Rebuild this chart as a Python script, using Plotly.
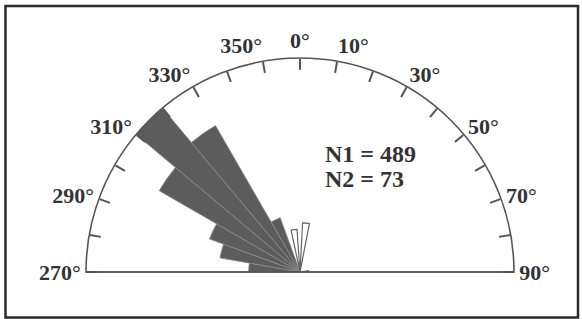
import plotly.graph_objects as go

W, H = 582, 319

# Main population (N1) petals, 10-degree bins, relative length
# (angles west of north written as negative degrees: -85 == 275°)
dark_theta = [-85, -75, -65, -55, -45, -35, -25]
dark_r = [0.24, 0.38, 0.45, 0.76, 1.0, 0.79, 0.27]

# Secondary population (N2) petals
light_theta = [-8, 7, 85]
light_r = [0.20, 0.23, 0.04]

tick_vals = [-90, -80, -70, -60, -50, -40, -30, -20, -10, 0, 10, 20, 30, 40, 50, 60, 70, 80, 90]
tick_text = ["270°", "", "290°", "", "310°", "", "330°", "", "350°", "0°", "10°", "",
             "30°", "", "50°", "", "70°", "", "90°"]

label_n1 = "N1 = 489"
label_n2 = "N2 = 73"

cx, cy, R = 300, 272, 214
dom_x = [(cx - R) / W, (cx + R) / W]
dom_y = [(H - cy) / H, (H - cy + R) / H]

fig = go.Figure()
fig.add_trace(go.Barpolar(
    theta=dark_theta, r=dark_r, width=[10] * len(dark_theta),
    marker=dict(color="#5c5c5c", line=dict(color="#8a8a8a", width=0.8)),
    showlegend=False, hoverinfo="skip"))
fig.add_trace(go.Barpolar(
    theta=light_theta, r=light_r, width=[8] * len(light_theta),
    marker=dict(color="white", line=dict(color="#666", width=1.2)),
    showlegend=False, hoverinfo="skip"))

serif = "Liberation Serif"
fig.update_layout(
    width=W, height=H,
    margin=dict(l=0, r=0, t=0, b=0),
    paper_bgcolor="white",
    polar=dict(
        domain=dict(x=dom_x, y=dom_y),
        sector=[0, 180],
        bgcolor="white",
        barmode="overlay",
        angularaxis=dict(
            rotation=90, direction="clockwise",
            tickmode="array", tickvals=tick_vals, ticktext=tick_text,
            ticks="inside", ticklen=11, tickwidth=1.5, tickcolor="#555",
            showline=True, linecolor="#555", linewidth=1.6,
            showgrid=False,
            tickfont=dict(family=serif, size=22, color="#333", weight="bold"),
        ),
        radialaxis=dict(range=[0, 1], visible=False, showgrid=False, showline=False),
    ),
    shapes=[
        dict(type="line", xref="paper", yref="paper",
             x0=dom_x[0], x1=dom_x[1], y0=dom_y[0], y1=dom_y[0],
             line=dict(color="#555", width=1.6)),
        dict(type="rect", xref="paper", yref="paper",
             x0=5.5 / W, x1=578 / W, y0=1 - 6 / H, y1=1 - 317.5 / H,
             line=dict(color="#2a2a2a", width=2.5)),
    ],
    annotations=[
        dict(text=label_n1, xref="paper", yref="paper", x=323 / W, y=1 - 154 / H,
             xanchor="left", yanchor="middle", showarrow=False,
             font=dict(family=serif, size=24, color="#333", weight="bold")),
        dict(text=label_n2, xref="paper", yref="paper", x=323 / W, y=1 - 179 / H,
             xanchor="left", yanchor="middle", showarrow=False,
             font=dict(family=serif, size=24, color="#333", weight="bold")),
    ],
)

fig.write_html("out.html", config={"displayModeBar": False},
               post_script="document.body.style.margin='0';")
